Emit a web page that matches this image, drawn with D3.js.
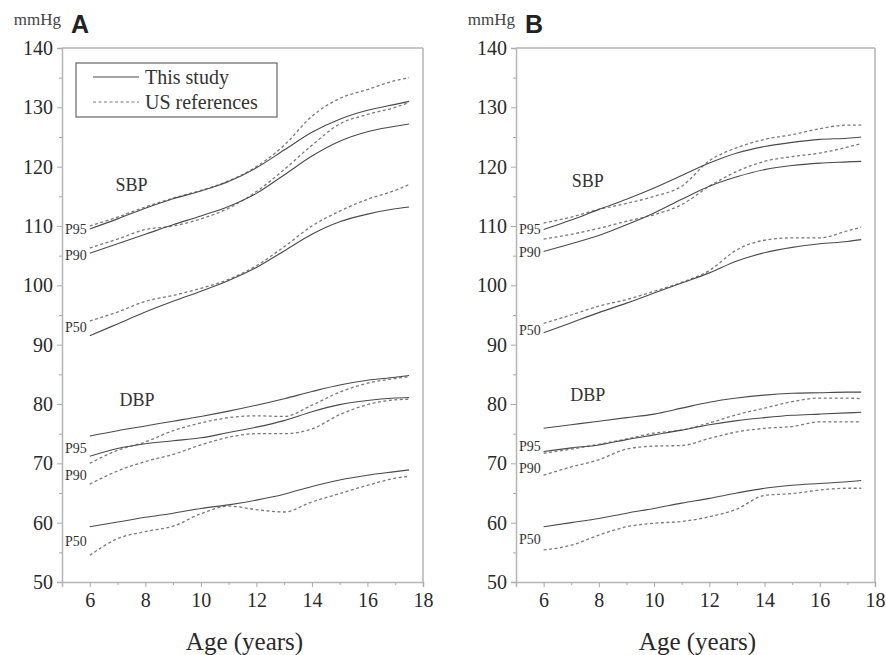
<!DOCTYPE html>
<html>
<head>
<meta charset="utf-8">
<script src="https://cdn.jsdelivr.net/npm/d3@7"></script>
<style>
  body { margin: 0; background: #fff; }
  svg { display: block; }
  svg text { font-family: "Liberation Serif", "Times New Roman", serif; }
  svg text.letter { font-family: "Liberation Sans", Arial, sans-serif; font-weight: bold; }
</style>
</head>
<body>
<div id="chart"></div>
<script>
// edades (años) en las que se leen las curvas
const ages = [6, 7, 8, 9, 10, 11, 12, 13, 14, 15, 16, 17, 17.5];

// Panel A - SBP
const aSbpThis95 = [109.5, 111.2, 113, 114.6, 115.9, 117.5, 119.8, 122.8, 125.8, 128, 129.5, 130.5, 131];
const aSbpUs95   = [110, 111.5, 113.2, 114.7, 116, 117.6, 120, 123.6, 128.5, 131.5, 133, 134.5, 135];
const aSbpThis90 = [105.4, 107, 108.6, 110.2, 111.7, 113.3, 115.5, 118.6, 121.8, 124.3, 125.9, 126.8, 127.2];
const aSbpUs90   = [106.3, 107.8, 109.4, 110, 111.2, 113, 115.8, 119.5, 123.6, 127.2, 128.8, 130, 130.8];
const aSbpThis50 = [91.5, 93.5, 95.5, 97.3, 99, 100.8, 103, 105.8, 108.6, 110.7, 112, 112.9, 113.2];
const aSbpUs50   = [94, 95.5, 97.3, 98.3, 99.5, 101, 103.3, 106.5, 110, 112.5, 114.5, 116, 117];
// Panel A - DBP
const aDbpThis95 = [74.6, 75.5, 76.3, 77.1, 77.9, 78.8, 79.8, 80.9, 82.1, 83.2, 84, 84.5, 84.8];
const aDbpUs95   = [70, 72.2, 73.6, 75.5, 76.8, 77.7, 78, 77.9, 79.8, 82, 83.5, 84.3, 84.6];
const aDbpThis90 = [71.2, 72.5, 73.3, 73.8, 74.3, 75.2, 76.1, 77.2, 78.7, 79.9, 80.6, 81, 81.1];
const aDbpUs90   = [66.5, 68.7, 70.3, 71.5, 73.1, 74.4, 75, 75, 75.8, 78.2, 79.9, 80.7, 80.8];
const aDbpThis50 = [59.3, 60.1, 60.9, 61.6, 62.4, 63, 63.8, 64.8, 66.1, 67.2, 68, 68.6, 68.9];
const aDbpUs50   = [54.5, 57.3, 58.5, 59.4, 61.5, 62.8, 62.2, 61.8, 63.5, 64.9, 66.3, 67.5, 67.8];

// Panel B - SBP
const bSbpThis95 = [109.4, 111, 112.8, 114.5, 116.4, 118.5, 120.6, 122.3, 123.4, 124.1, 124.6, 124.8, 125];
const bSbpUs95   = [110.5, 111.5, 112.8, 113.8, 115, 116.7, 121, 123.2, 124.6, 125.4, 126.4, 127, 127];
const bSbpThis90 = [105.7, 107, 108.4, 110.2, 112.2, 114.5, 116.7, 118.3, 119.5, 120.2, 120.6, 120.8, 120.9];
const bSbpUs90   = [107.8, 108.6, 109.6, 110.8, 111.9, 113.6, 116.7, 119.2, 120.9, 121.7, 122.3, 123.3, 123.9];
const bSbpThis50 = [92, 93.7, 95.4, 97, 98.7, 100.4, 102.1, 104.1, 105.5, 106.4, 107, 107.4, 107.7];
const bSbpUs50   = [93.6, 95, 96.5, 97.6, 99, 100.5, 102.5, 106, 107.6, 108, 108, 109.2, 109.8];
// Panel B - DBP
const bDbpThis95 = [75.9, 76.5, 77.1, 77.7, 78.3, 79.3, 80.3, 81, 81.5, 81.8, 81.9, 82, 82];
const bDbpUs95   = [71.7, 72.4, 73.2, 74.1, 75.1, 75.6, 76.8, 78.2, 79.3, 80.4, 81, 81, 80.9];
const bDbpThis90 = [72, 72.6, 73.1, 74, 74.8, 75.6, 76.5, 77.2, 77.7, 78.1, 78.3, 78.5, 78.6];
const bDbpUs90   = [68, 69.4, 70.6, 72.4, 72.9, 73, 74.2, 75.3, 75.9, 76.2, 77, 77, 77];
const bDbpThis50 = [59.3, 60, 60.7, 61.6, 62.4, 63.3, 64.1, 65, 65.8, 66.3, 66.6, 66.9, 67.1];
const bDbpUs50   = [55.4, 56.2, 57.9, 59.3, 59.9, 60.2, 61, 62.3, 64.6, 64.9, 65.5, 65.8, 65.8];

// ticks
const xTicks = [6, 8, 10, 12, 14, 16, 18];
const yTicks = [50, 60, 70, 80, 90, 100, 110, 120, 130, 140];

// etiquetas de percentil: [texto, valor y]
const aLabels = [["P95", 109.5], ["P90", 105.1], ["P50", 93], ["P95", 72.6], ["P90", 68], ["P50", 56.9]];
const bLabels = [["P95", 109.5], ["P90", 105.6], ["P50", 92.5], ["P95", 72.9], ["P90", 69.2], ["P50", 57.2]];

const W = 886, H = 655;

const svg = d3.select("#chart").append("svg")
  .attr("width", W)
  .attr("height", H);

function drawPanel(opt) {
  const x = d3.scaleLinear().domain([5, 18]).range([opt.left, opt.right]);
  const y = d3.scaleLinear().domain([50, 140]).range([582, 48]);
  const g = svg.append("g");

  // marco (arriba y derecha)
  g.append("line").attr("x1", x(5)).attr("x2", x(18)).attr("y1", y(140)).attr("y2", y(140))
    .attr("stroke", "#b5b5b5").attr("stroke-width", 1.5);
  g.append("line").attr("x1", x(18)).attr("x2", x(18)).attr("y1", y(140)).attr("y2", y(50))
    .attr("stroke", "#b5b5b5").attr("stroke-width", 1.5);

  // eje x
  g.append("g").attr("transform", `translate(0,${y(50)})`)
    .call(d3.axisBottom(x).tickValues(xTicks).tickSize(5).tickPadding(6).tickFormat(d3.format("d")));
  g.append("g").attr("transform", `translate(0,${y(50)})`)
    .call(d3.axisBottom(x).tickValues(d3.range(7, 18, 2)).tickSize(3).tickFormat(""))
    .select(".domain").remove();

  // eje y
  g.append("g").attr("transform", `translate(${x(5)},0)`)
    .call(d3.axisLeft(y).tickValues(yTicks).tickSize(5).tickPadding(4));
  g.append("g").attr("transform", `translate(${x(5)},0)`)
    .call(d3.axisLeft(y).tickValues(d3.range(55, 140, 10)).tickSize(3).tickFormat(""))
    .select(".domain").remove();

  g.selectAll(".domain").attr("stroke", "#b5b5b5").attr("stroke-width", 1.5);
  g.selectAll(".tick line").attr("stroke", "#aaa");
  g.selectAll(".tick text")
    .attr("font-family", null)
    .attr("font-size", 20).attr("fill", "#2a2a2a");

  // título eje x
  g.append("text")
    .attr("x", (x(5) + x(18)) / 2 + 2)
    .attr("y", 650)
    .attr("text-anchor", "middle")
    .attr("font-size", 25).attr("fill", "#2a2a2a")
    .text("Age (years)");

  // unidades y letra del panel
  g.append("text")
    .attr("x", x(5) - 1).attr("y", 25)
    .attr("text-anchor", "end")
    .attr("font-size", 17).attr("fill", "#444")
    .text("mmHg");
  g.append("text")
    .attr("class", "letter")
    .attr("x", x(5) + 9).attr("y", 33)
    .attr("font-size", 25).attr("fill", "#222")
    .text(opt.letter);

  // líneas
  const line = d3.line().x((d, i) => x(ages[i])).y(d => y(d)).curve(d3.curveMonotoneX);

  opt.us.forEach(s => {
    g.append("path").attr("d", line(s))
      .attr("fill", "none").attr("stroke", "#7a7a7a").attr("stroke-width", 1.3)
      .attr("stroke-dasharray", "3,2.5");
  });
  opt.ours.forEach(s => {
    g.append("path").attr("d", line(s))
      .attr("fill", "none").attr("stroke", "#4a4a4a").attr("stroke-width", 1.1);
  });

  // etiquetas
  opt.labels.forEach(([t, v]) => {
    g.append("text")
      .attr("x", x(5) + 3).attr("y", y(v))
      .attr("dy", "0.35em")
      .attr("font-size", 14).attr("fill", "#333")
      .text(t);
  });
  g.append("text").attr("x", x(opt.sbpAt[0])).attr("y", y(opt.sbpAt[1])).attr("dy", "0.35em")
    .attr("text-anchor", "middle")
    .attr("font-size", 18).attr("fill", "#333").text("SBP");
  g.append("text").attr("x", x(opt.dbpAt[0])).attr("y", y(opt.dbpAt[1])).attr("dy", "0.35em")
    .attr("text-anchor", "middle")
    .attr("font-size", 18).attr("fill", "#333").text("DBP");

  // leyenda
  if (opt.legend) {
    const lg = g.append("g").attr("transform", `translate(${x(5) + 14},63)`);
    lg.append("rect").attr("width", 201).attr("height", 54)
      .attr("fill", "none").attr("stroke", "#666").attr("stroke-width", 1.2);
    const items = [["This study", null], ["US references", "3,2.5"]];
    items.forEach(([t, dash], i) => {
      const yy = 14 + i * 25;
      lg.append("line").attr("x1", 17).attr("x2", 63).attr("y1", yy).attr("y2", yy)
        .attr("stroke", dash ? "#7a7a7a" : "#4a4a4a").attr("stroke-width", 1.1)
        .attr("stroke-dasharray", dash);
      lg.append("text").attr("x", 69).attr("y", yy).attr("dy", "0.35em")
        .attr("font-size", 20).attr("fill", "#333").text(t);
    });
  }
}

drawPanel({
  left: 62, right: 423, letter: "A", legend: true,
  ours: [aSbpThis95, aSbpThis90, aSbpThis50, aDbpThis95, aDbpThis90, aDbpThis50],
  us: [aSbpUs95, aSbpUs90, aSbpUs50, aDbpUs95, aDbpUs90, aDbpUs50],
  labels: aLabels, sbpAt: [7.5, 116.9], dbpAt: [7.7, 80.8]
});

drawPanel({
  left: 516, right: 875, letter: "B", legend: false,
  ours: [bSbpThis95, bSbpThis90, bSbpThis50, bDbpThis95, bDbpThis90, bDbpThis50],
  us: [bSbpUs95, bSbpUs90, bSbpUs50, bDbpUs95, bDbpUs90, bDbpUs50],
  labels: bLabels, sbpAt: [7.6, 117.6], dbpAt: [7.6, 81.5]
});
</script>
</body>
</html>
